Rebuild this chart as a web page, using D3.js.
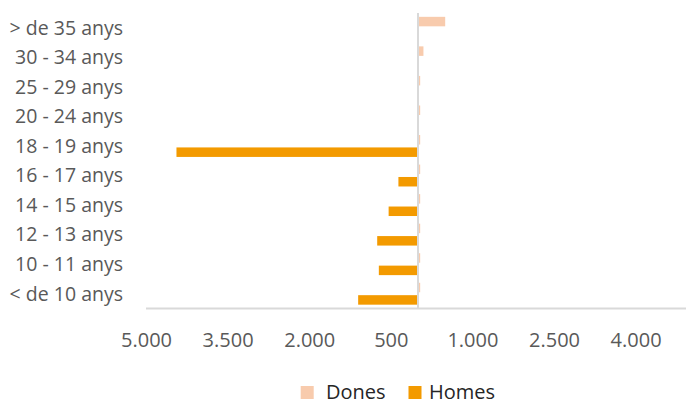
<!DOCTYPE html>
<html>
<head>
<meta charset="utf-8">
<script src="https://cdn.jsdelivr.net/npm/d3@7"></script>
<style>
  html, body { margin: 0; padding: 0; background: #fff; }
  svg { display: block; }
</style>
</head>
<body>
<svg id="chart" width="686" height="404"></svg>
<script>
const categories = ["> de 35 anys", "30 - 34 anys", "25 - 29 anys", "20 - 24 anys", "18 - 19 anys",
                    "16 - 17 anys", "14 - 15 anys", "12 - 13 anys", "10 - 11 anys", "< de 10 anys"];
const dones = [500, 100, 40, 40, 40, 40, 40, 40, 40, 40];
const homes = [0, 0, 0, 0, 4440, 360, 540, 750, 720, 1100];
const tickValues = [-5000, -3500, -2000, -500, 1000, 2500, 4000];
const seriesNames = ["Dones", "Homes"];
const seriesColors = ["#F8CBAD", "#F39A00"];

const svg = d3.select("#chart");
const font = "'Open Sans', Lato, sans-serif";

const x = d3.scaleLinear().domain([-5000, 5000]).range([146, 690]);
const y = d3.scaleBand().domain(categories).range([13, 308.5]);
const barH = 9.5, off = 6.2;

const loc = d3.formatLocale({decimal: ",", thousands: ".", grouping: [3], currency: ["", ""]});
const fmt = loc.format(",");

// bottom axis line
svg.append("line")
  .attr("x1", x(-5000)).attr("x2", x(5000))
  .attr("y1", 308.5).attr("y2", 308.5)
  .attr("stroke", "#d9d9d9").attr("stroke-width", 2);

// bars
const rows = categories.map((c, i) => ({c, d: dones[i], h: homes[i]}));
svg.append("g").selectAll("rect").data(rows).join("rect")
  .attr("x", r => x(-r.h)).attr("width", r => x(0) - x(-r.h))
  .attr("y", r => y(r.c) + y.bandwidth() / 2 + off - barH / 2)
  .attr("height", barH).attr("fill", seriesColors[1]);
svg.append("g").selectAll("rect").data(rows).join("rect")
  .attr("x", x(0)).attr("width", r => x(r.d) - x(0))
  .attr("y", r => y(r.c) + y.bandwidth() / 2 - off - barH / 2)
  .attr("height", barH).attr("fill", seriesColors[0]);

// vertical axis line at 0
svg.append("line")
  .attr("x1", x(0)).attr("x2", x(0))
  .attr("y1", 13).attr("y2", 308.5)
  .attr("stroke", "#d9d9d9").attr("stroke-width", 2);

// y axis labels
const ya = svg.append("g").attr("transform", "translate(123,0)")
  .call(d3.axisLeft(y).tickSize(0).tickPadding(0));
ya.select(".domain").remove();
ya.selectAll("text").attr("font-family", font).attr("font-size", 19.5).attr("fill", "#595959").attr("dy", "0.35em");

// x axis labels
const xa = svg.append("g").attr("transform", "translate(0,346.5)")
  .call(d3.axisBottom(x).tickValues(tickValues).tickSize(0).tickPadding(0).tickFormat(d => fmt(Math.abs(d))));
xa.select(".domain").remove();
xa.selectAll("text").attr("font-family", font).attr("font-size", 20).attr("fill", "#595959").attr("y", 0).attr("dy", 0);

// legend
const legendX = [300.7, 408.5];
const textX = [326, 429];
const lg = svg.append("g");
seriesNames.forEach((n, i) => {
  lg.append("rect").attr("x", legendX[i]).attr("y", 386).attr("width", 13).attr("height", 13).attr("fill", seriesColors[i]);
  lg.append("text").attr("x", textX[i]).attr("y", 398.5)
    .attr("font-family", font).attr("font-size", 20).attr("fill", "#262626").text(n);
});
</script>
</body>
</html>
